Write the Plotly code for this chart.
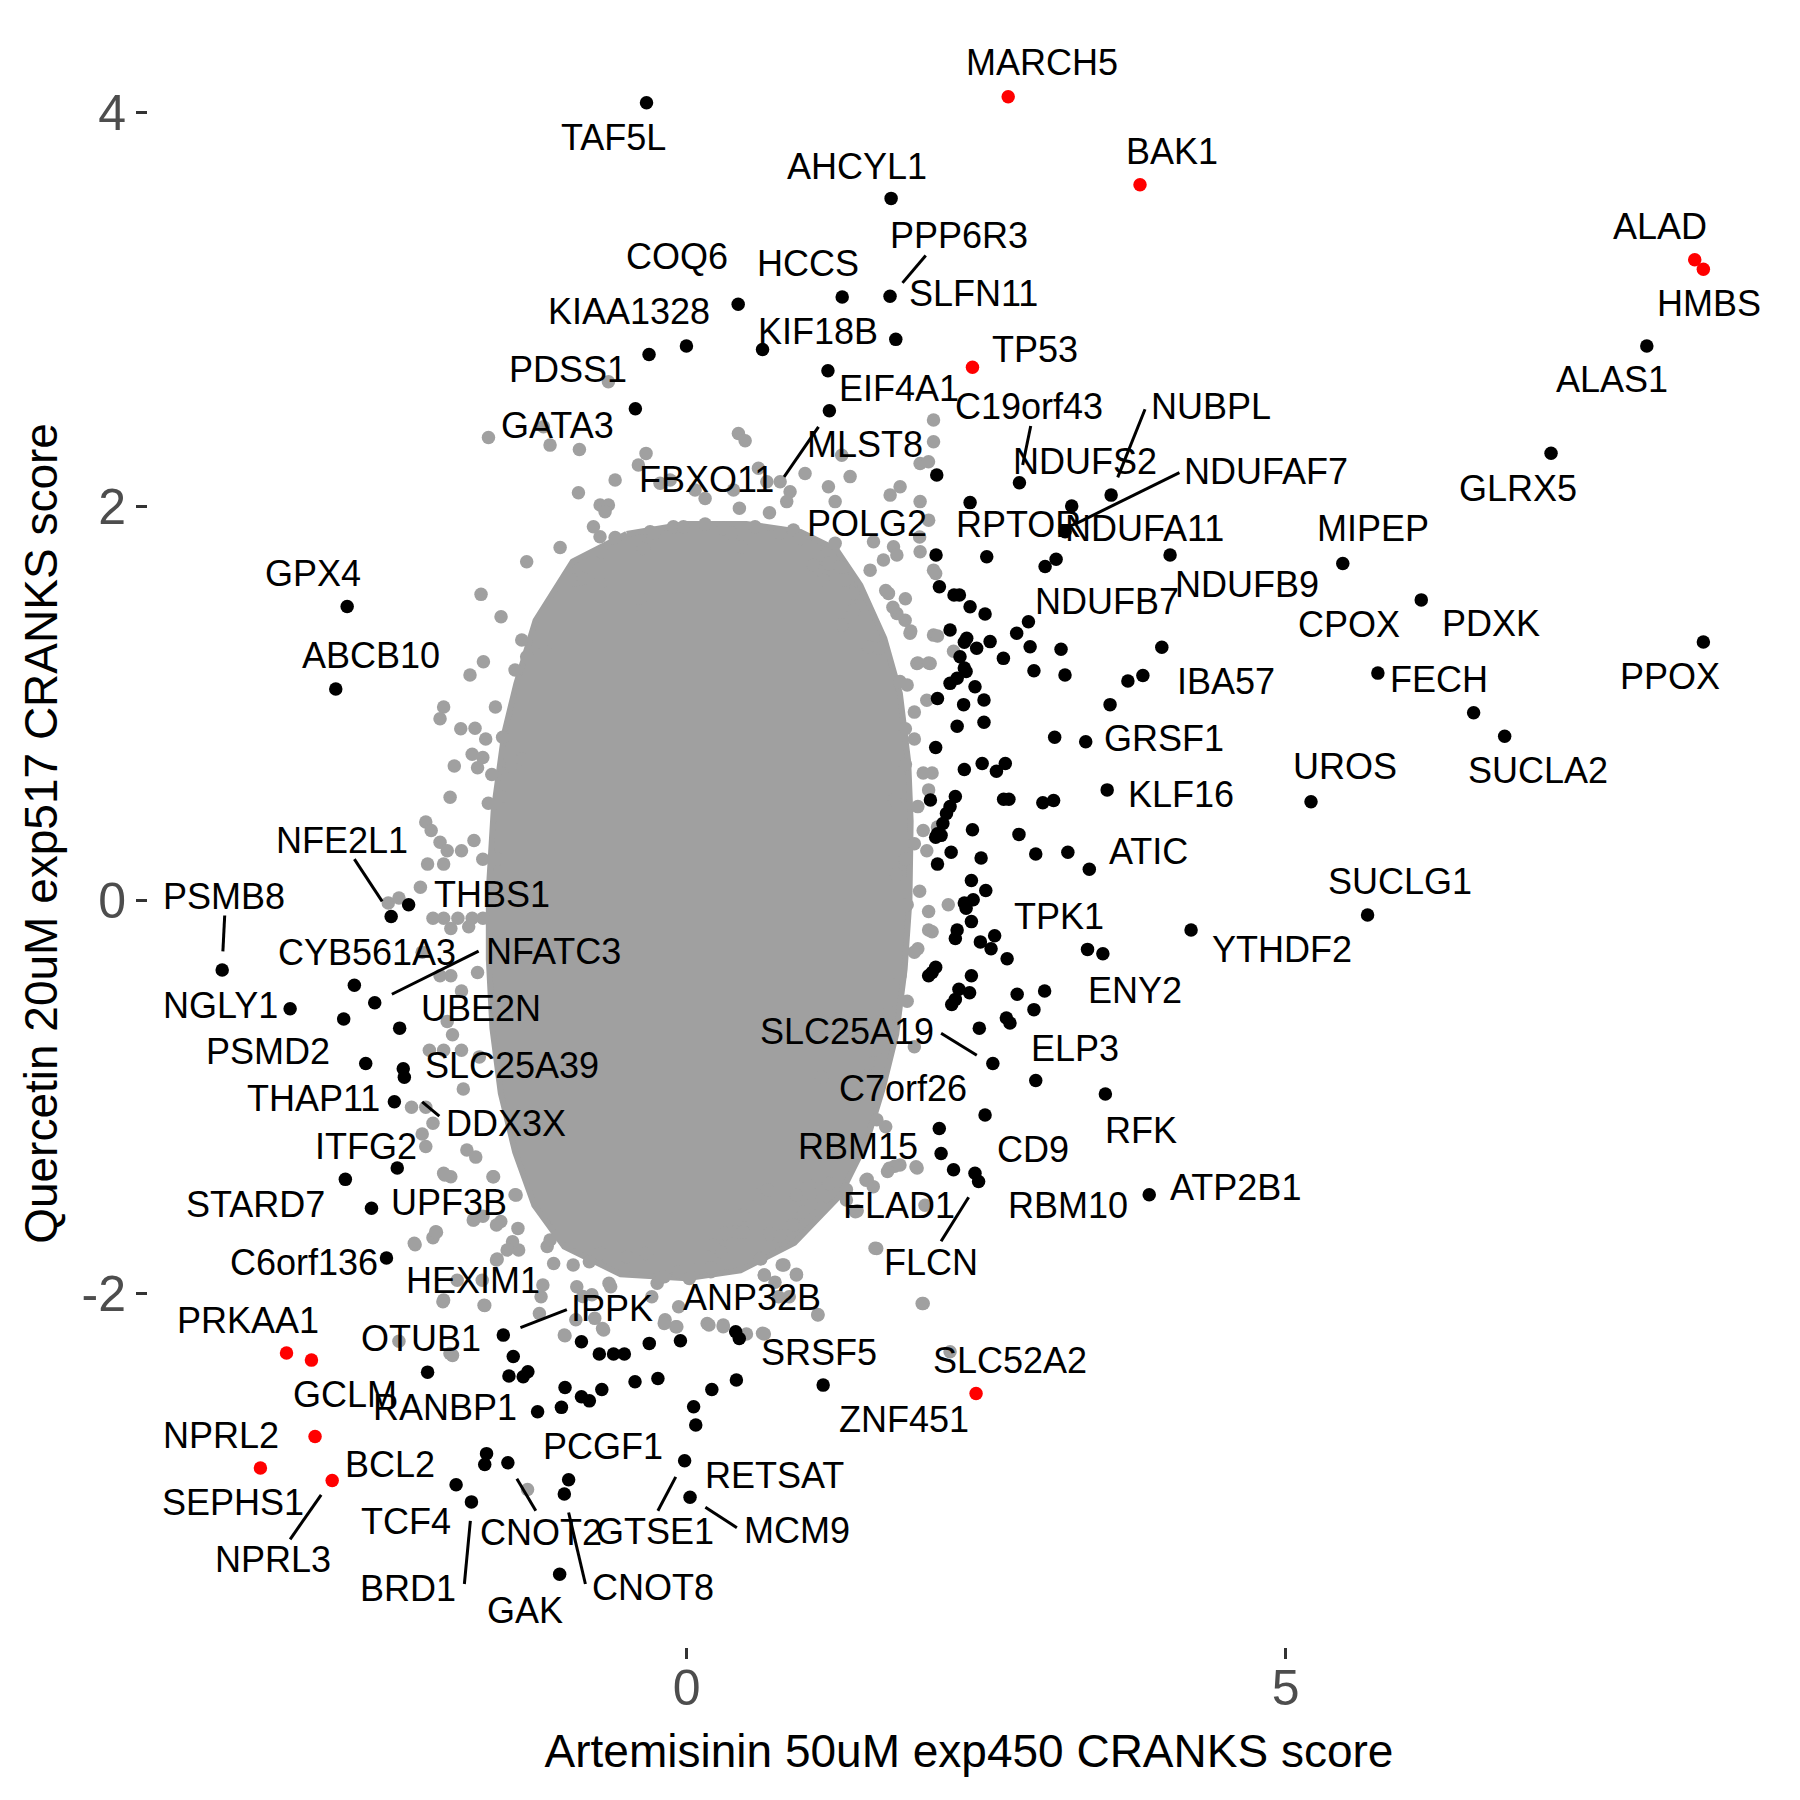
import plotly.graph_objects as go

# ---------------- data: labelled hits ----------------
hit_gene = ["TAF5L", "MARCH5", "AHCYL1", "BAK1", "ALAD", "HMBS", "COQ6", "HCCS", "PPP6R3", "SLFN11",
            "KIAA1328", "KIF18B", "PDSS1", "ALAS1", "TP53", "EIF4A1", "GATA3", "C19orf43", "NUBPL", "MLST8",
            "FBXO11", "NDUFS2", "NDUFAF7", "GLRX5", "RPTOR", "POLG2", "NDUFA11", "MIPEP", "NDUFB9", "CPOX",
            "PDXK", "NDUFB7", "GPX4", "PPOX", "IBA57", "FECH", "ABCB10", "SUCLA2", "GRSF1", "UROS",
            "KLF16", "ATIC", "NFE2L1", "THBS1", "PSMB8", "SUCLG1", "TPK1", "YTHDF2", "ENY2", "CYB561A3",
            "NFATC3", "NGLY1", "UBE2N", "PSMD2", "SLC25A39", "SLC25A19", "ELP3", "DDX3X", "THAP11", "C7orf26",
            "RFK", "CD9", "RBM15", "ITFG2", "FLAD1", "RBM10", "FLCN", "STARD7", "ATP2B1", "UPF3B",
            "C6orf136", "HEXIM1", "ANP32B", "IPPK", "PRKAA1", "OTUB1", "GCLM", "SRSF5", "ZNF451", "SLC52A2",
            "RANBP1", "RETSAT", "NPRL2", "PCGF1", "BCL2", "SEPHS1", "NPRL3", "TCF4", "CNOT2", "GTSE1",
            "BRD1", "CNOT8", "MCM9", "GAK"]
hit_x = [-0.334, 2.684, 1.707, 3.784, 8.413, 8.485, 0.431, 1.299, 1.698, 1.746,
         -0.001, 0.634, -0.313, 8.013, 2.386, 1.180, -0.427, 2.778, 3.543, 2.088,
         1.192, 3.214, 3.159, 7.214, 2.366, 2.082, 3.084, 5.476, 4.035, 6.131,
         6.568, 2.853, -2.832, 8.485, 3.966, 5.769, -2.927, 6.827, 3.331, 5.211,
         3.510, 3.361, -2.465, -2.319, -3.875, 5.683, 3.346, 4.210, 3.474, -2.772,
         -2.602, -3.308, -2.394, -2.677, -2.364, 2.556, 2.914, -2.355, -2.438, 2.109,
         3.495, 2.491, 2.124, -2.414, 2.228, 2.407, 2.437, -2.847, 3.861, -2.629,
         -2.504, -1.446, 0.440, -1.529, -3.338, -2.161, -3.130, 0.416, 1.140, 2.416,
         -1.243, 0.077, -3.100, -0.984, -1.684, -3.556, -2.957, -1.923, -1.491, -0.016,
         -1.795, -1.020, 0.029, -1.059]
hit_y = [4.050, 4.080, 3.564, 3.633, 3.252, 3.204, 3.026, 3.063, 3.067, 2.848,
         2.814, 2.797, 2.771, 2.814, 2.706, 2.689, 2.496, 2.120, 2.057, 2.159,
         2.486, 2.002, 1.871, 2.270, 2.019, 1.753, 1.731, 1.710, 1.753, 1.525,
         0.952, 1.414, 1.491, 1.311, 1.284, 1.153, 1.072, 0.832, 0.804, 0.500,
         0.560, 0.157, -0.083, -0.023, -0.355, -0.075, -0.250, -0.152, -0.272, -0.432,
         -0.521, -0.552, -0.650, -0.830, -0.856, -0.830, -0.916, -0.899, -1.024, -1.160,
         -0.985, -1.091, -1.287, -1.360, -1.369, -1.387, -1.429, -1.418, -1.496, -1.565,
         -1.817, -2.318, -2.226, -2.209, -2.300, -2.397, -2.336, -2.437, -2.463, -2.506,
         -2.598, -2.666, -2.724, -2.944, -2.866, -2.884, -2.947, -2.969, -2.857, -2.847,
         -3.056, -3.016, -3.032, -3.424]
red_genes = ["MARCH5", "BAK1", "ALAD", "HMBS", "TP53", "PRKAA1", "GCLM", "SLC52A2",
             "NPRL2", "SEPHS1", "NPRL3"]

# ---------------- data: unlabelled hits (black) ----------------
other_x = [2.505, 2.992, 2.110, 2.232, 2.277, 2.366, 2.491, 2.199, 2.755, 2.338, 2.318, 2.421, 2.533,
           2.867, 3.125, 2.644, 2.282, 2.318, 2.333, 2.899, 3.158, 3.683, 3.808, 2.258, 2.199, 2.407,
           2.094, 2.482, 2.312, 3.534, 2.258, 2.482, 3.072, 2.079, 2.318, 2.467, 2.586, 2.660, 2.035,
           2.243, 2.199, 2.169, 2.646, 2.690, 2.973, 3.063, 2.139, 2.094, 2.079, 2.124, 2.386, 2.774,
           2.914, 3.182, 2.208, 2.458, 2.094, 2.377, 2.497, 2.318, 2.392, 2.333, 2.377, 2.258, 2.243,
           2.452, 2.571, 2.541, 2.675, 2.079, 2.020, 2.049, 2.377, 2.273, 2.362, 2.243, 2.213, 2.759,
           2.988, 2.899, 2.669, 2.699, 2.443, -2.861, -1.482, -1.363, -1.324, -0.877, -0.728, -0.609,
           -0.519, -0.311, -0.051, -1.014, -0.877, -0.811, -0.707, -0.430, -0.239, 0.410, 0.211, -1.044,
           0.059, -1.669]
other_y = [1.744, 1.694, 1.592, 1.550, 1.550, 1.490, 1.453, 1.372, 1.355, 1.330, 1.310, 1.279, 1.313,
           1.287, 1.274, 1.228, 1.236, 1.179, 1.161, 1.165, 1.144, 1.113, 1.141, 1.127, 1.101, 1.084,
           1.024, 1.016, 0.993, 0.993, 0.883, 0.904, 0.827, 0.775, 0.664, 0.694, 0.655, 0.694, 0.509,
           0.526, 0.475, 0.440, 0.512, 0.512, 0.495, 0.506, 0.389, 0.337, 0.320, 0.329, 0.358, 0.334,
           0.234, 0.243, 0.243, 0.214, 0.183, 0.100, 0.049, -0.015, 0.002, -0.041, -0.109, -0.152, -0.195,
           -0.212, -0.181, -0.247, -0.298, -0.341, -0.384, -0.367, -0.384, -0.453, -0.470, -0.504, -0.530, -0.478,
           -0.461, -0.556, -0.599, -0.624, -0.650, -0.604, -2.417, -2.420, -2.395, -2.243, -2.305, -2.305,
           -2.305, -2.251, -2.238, -2.475, -2.522, -2.543, -2.485, -2.446, -2.429, -2.192, -2.485, -2.576,
           -2.573, -2.811]

# ---------------- data: background genes (grey) ----------------
# outline of the saturated centre of the grey cloud
core_x = [-0.50, 0.00, 0.50, 0.95, 1.25, 1.45, 1.65, 1.78, 1.85, 1.87, 1.86, 1.82, 1.75, 1.64, 1.50,
          1.28, 0.90, 0.45, 0.00, -0.55, -1.02, -1.27, -1.43, -1.55, -1.62, -1.65, -1.65, -1.61, -1.52,
          -1.42, -1.26, -0.95]
core_y = [1.86, 1.91, 1.91, 1.87, 1.78, 1.60, 1.33, 1.05, 0.70, 0.40, 0.00, -0.35, -0.68, -0.95, -1.23,
          -1.50, -1.74, -1.88, -1.92, -1.90, -1.76, -1.55, -1.28, -0.98, -0.65, -0.30, 0.05, 0.45, 0.85,
          1.10, 1.42, 1.72]
# scattered grey genes around the centre
bg_x = [-1.653, -1.194, -1.139, -0.894, -0.652, 0.433, 0.489, -0.338, -0.402, -0.596, -0.902, -0.721,
        -0.652, -0.680, -0.777, -0.722, -0.596, -1.055, -0.707, -1.334, -0.221, -0.137, 0.071, 0.155,
        0.392, 0.600, 0.670, 0.781, 0.989, 0.864, 0.836, 0.441, 0.692, 0.572, 0.155, -0.110, -0.026,
        -0.304, 0.308, 0.377, 0.781, 0.892, 0.947, 1.184, 1.365, 1.295, 1.240, 1.170, 1.240, 1.560,
        1.699, 1.782, 1.949, 2.061, 2.061, 1.949, 2.019, 1.727, 1.755, 1.643, 1.949, 1.059, 1.184,
        1.281, 1.532, 1.142, 1.323, 1.393, 1.685, 2.061, 1.824, 1.865, 2.061, 1.518, 1.615, 1.922,
        2.033, 1.755, 1.393, 1.295, -1.715, -1.548, -1.375, -1.695, -1.807, -1.431, -1.334, -1.181,
        -0.930, -0.861, -0.722, -0.388, -0.360, -0.276, 0.461, 2.020, 1.945,
        -1.595, -2.027, -2.057, -1.884, -1.765, -1.676, -1.535, -1.789, -1.700, -1.938, -1.744, -1.625,
        -1.461, -1.371, -1.973, -1.654, -1.550, -2.176, -2.131, -2.057, -1.997, -1.878, -1.774, -1.700,
        -1.580, -2.161, -2.027, -2.221, -2.489, -2.400, -2.116, -2.027, -1.908, -1.789, -1.699, -1.967,
        -1.818, -2.206, -2.057, -1.967, -1.878, -1.744, -1.997, -1.953, -2.146, -2.027, -1.878, -1.729,
        -1.863,
        2.079, 1.826, 1.662, 1.722, 1.871, 2.094, 1.930, 2.020, 2.228, 1.781, 1.841, 2.005, 1.901,
        1.826, 1.901, 1.975, 2.049, 2.020, 1.826, 1.930, 1.737, 1.975, 2.094, 1.901, 2.005, 1.826,
        1.752, 1.945, 2.184, 2.020, 1.841, 2.020, 2.049, 1.930, 1.901, 1.781, 1.841, 1.692, 1.901,
        1.573, 1.513, 1.126,
        -2.295, -2.176, -2.206, -2.116, -2.176, -1.833, -2.027, -1.967, -1.610, -1.759, -1.431, -1.774,
        -1.699, -1.550, -2.087, -2.116, -2.265, -1.580, -1.401, -1.163, -2.027, -1.684, -2.400, -1.953,
        -1.327, -1.014, -0.701, -0.865, -0.790, -0.179, -0.090, -0.924,
        -2.018, -2.272, -2.093, -1.616, -1.422, -1.780, -1.586, -1.407, -1.452, -1.497, -1.139, -1.586,
        -1.914, -1.705, -2.033, -1.690, -1.974, -1.214, -1.199, -1.109, -0.946, -1.228, -1.020, -0.916,
        -0.766, -0.692, -0.647, -0.633, -0.722, -0.811, -0.498, -0.335, -0.245, -0.186, -0.290, -0.186,
        -0.081, -0.066, -0.066, 0.112, 0.202, 0.023, 0.172, 0.306, 0.470, 0.619, 0.798, 0.649, 0.917,
        0.768, 0.857, 0.634, 1.096, 1.587, 1.975, 0.589, 0.679, 0.902, 0.977, 1.185, 1.126, 1.498,
        1.558, 1.692, 1.781, 1.915, 1.334, 1.409, 1.036, 0.217, 0.291, 0.470, 0.321, 0.411,
        1.662, 1.588, 1.924, 1.737, 1.677, 1.507, 1.334, 1.424, 1.573, 1.990, 1.022, 0.917, 0.470,
        0.694, 0.783, 0.887, 0.619, 0.813, 0.917, 0.649, 0.738, 1.096, 0.187, 0.306, 0.500, 0.649,
        1.966, 2.199, 0.202]
bg_y = [2.350, 2.404, 2.311, 2.289, 2.633, 2.370, 2.333, 2.269, 2.210, 2.134, 2.069, 2.007,
        2.007, 1.973, 1.896, 1.846, 1.842, 1.791, 1.769, 1.719, 2.117, 2.134, 2.083, 2.040,
        2.083, 2.193, 2.125, 2.125, 2.167, 2.074, 2.024, 1.990, 1.968, 1.896, 1.910, 1.896, 1.896,
        1.871, 1.888, 1.863, 1.863, 1.880, 1.837, 2.100, 2.151, 2.260, 2.024, 1.761, 1.812, 1.820,
        2.057, 2.100, 2.024, 2.438, 2.328, 2.218, 2.227, 1.795, 1.753, 1.727, 1.769, 1.702, 1.710,
        1.693, 1.676, 1.626, 1.626, 1.558, 1.558, 1.676, 1.422, 1.355, 1.346, 1.287, 1.279, 1.202,
        1.202, 1.456, 1.473, 1.397, 1.553, 1.439, 1.321, 1.211, 1.143, 1.169, 1.236, 1.262,
        1.626, 1.634, 1.609, 1.533, 1.786, 1.863, 1.795, 1.930, 1.844,
        0.981, 0.981, 0.921, 0.870, 0.873, 0.818, 0.827, 0.741, 0.724, 0.681, 0.672, 0.638,
        0.681, 0.715, 0.523, 0.492, 0.526, 0.397, 0.354, 0.294, 0.251, 0.251, 0.303, 0.208,
        0.208, 0.183, 0.183, 0.066, -0.015, 0.011, -0.092, -0.092, -0.092, -0.092, -0.092, -0.144,
        -0.135, -0.264, -0.384, -0.384, -0.461, -0.367, -0.616, -0.684, -0.762, -0.762, -0.762, -0.796,
        -0.959,
        1.659, 1.531, 1.573, 1.488, 1.367, 1.342, 1.204, 1.204, 1.264, 1.110, 1.093, 1.015, 0.955,
        0.870, 0.818, 0.646, 0.646, 0.560, 0.689, 0.475, 0.509, 0.354, 0.372, 0.286, 0.251, 0.208,
        0.131, 0.045, -0.023, -0.058, -0.023, -0.152, -0.161, -0.247, -0.264, -0.384, -0.513, -0.573, -0.745,
        -0.762, -0.830, -0.899,
        -1.052, -1.052, -1.188, -1.133, -1.251, -1.269, -1.387, -1.405, -1.405, -1.305, -1.496, -1.623,
        -1.605, -1.632, -1.686, -1.714, -1.750, -1.822, -1.777, -1.759, -2.031, -2.058, -2.240, -2.312,
        -2.993, -2.212, -2.176, -2.013, -2.004, -2.131, -2.167, -2.131,
        -1.396, -1.743, -1.684, -1.405, -1.498, -1.625, -1.650, -1.667, -1.735, -1.777, -1.726, -1.828,
        -1.930, -1.930, -2.040, -2.057, -2.302, -2.014, -1.955, -1.845, -1.853, -2.099, -2.209, -1.963,
        -2.124, -2.183, -1.946, -1.963, -1.794, -1.836, -1.811, -1.794, -1.946, -1.913, -2.014, -2.150,
        -2.167, -2.065, -1.887, -1.870, -1.887, -1.921, -2.150, -2.158, -1.684, -1.820, -1.853, -1.904, -1.904,
        -2.014, -2.014, -2.200, -2.107, -1.769, -2.048, -1.498, -1.472, -1.650, -1.582, -1.439, -1.565, -1.422,
        -1.455, -1.362, -1.345, -1.354, -1.523, -1.582, -1.489, -1.752, -1.786, -1.600, -1.693, -1.684,
        -1.151, -1.115, -1.360, -1.351, -1.378, -1.418, -1.469, -1.578, -1.768, -1.550, -1.451, -1.496, -1.686,
        -1.695, -1.705, -1.650, -1.822, -1.853, -1.900, -1.904, -1.940, -2.104, -2.158, -2.167, -2.203, -2.203,
        -2.049, -2.294, -1.868]

# ---------------- text layout (repelled label positions) ----------------
label_pos_x = [-0.613, 2.968, 1.426, 4.052, 8.124, 8.535, -0.077, 1.011, 2.271, 2.398,
               -0.479, 1.099, -0.993, 7.721, 2.910, 1.770, -1.080, 2.860, 4.380, 1.492,
               0.170, 3.325, 4.837, 6.938, 2.770, 1.504, 3.820, 5.731, 4.674, 5.527,
               6.711, 3.506, -3.120, 8.205, 4.502, 6.282, -2.636, 7.108, 3.986, 5.494,
               4.125, 3.857, -2.875, -1.622, -3.860, 5.954, 3.105, 4.971, 3.739, -2.665,
               -1.111, -3.888, -1.719, -3.491, -1.458, 1.338, 3.245, -1.505, -3.113, 1.806,
               3.793, 2.892, 1.431, -2.675, 1.770, 3.181, 2.042, -3.596, 4.579, -1.983,
               -3.190, -1.778, 0.546, -0.618, -3.663, -2.217, -2.846, 1.107, 1.816, 2.696,
               -2.012, 0.738, -3.885, -0.696, -2.473, -3.785, -3.453, -2.342, -1.215, -0.260,
               -2.322, -0.278, 0.919, -1.345]
label_pos_y = [3.875, 4.254, 3.727, 3.804, 3.423, 3.029, 3.271, 3.232, 3.374, 3.080,
               2.991, 2.890, 2.697, 2.646, 2.795, 2.597, 2.412, 2.506, 2.507, 2.316,
               2.137, 2.227, 2.175, 2.093, 1.906, 1.915, 1.888, 1.890, 1.603, 1.402,
               1.405, 1.519, 1.660, 1.137, 1.108, 1.122, 1.240, 0.660, 0.820, 0.677,
               0.536, 0.248, 0.303, 0.028, 0.018, 0.095, -0.083, -0.251, -0.458, -0.267,
               -0.263, -0.537, -0.549, -0.767, -0.840, -0.669, -0.752, -1.132, -1.009, -0.954,
               -1.171, -1.264, -1.250, -1.250, -1.551, -1.550, -1.842, -1.548, -1.459, -1.538,
               -1.842, -1.931, -2.019, -2.076, -2.133, -2.225, -2.510, -2.299, -2.640, -2.340,
               -2.578, -2.921, -2.717, -2.774, -2.865, -3.058, -3.347, -3.154, -3.209, -3.208,
               -3.495, -3.490, -3.201, -3.607]
# leader segments: gene -> (label end x, label end y, point end x, point end y)
leader_segments = {
    "PPP6R3": (1.996, 3.274, 1.802, 3.135),
    "C19orf43": (2.872, 2.408, 2.805, 2.210),
    "NUBPL": (3.826, 2.493, 3.598, 2.147),
    "FBXO11": (0.814, 2.150, 1.101, 2.404),
    "NDUFAF7": (4.113, 2.171, 3.242, 1.910),
    "NFE2L1": (-2.772, 0.208, -2.540, -0.006),
    "PSMB8": (-3.854, -0.078, -3.869, -0.260),
    "NFATC3": (-1.735, -0.259, -2.459, -0.478),
    "SLC25A19": (2.124, -0.676, 2.422, -0.788),
    "DDX3X": (-2.063, -1.097, -2.206, -1.024),
    "FLCN": (2.124, -1.732, 2.354, -1.509),
    "IPPK": (-0.999, -2.080, -1.386, -2.171),
    "NPRL3": (-3.049, -3.020, -3.308, -3.246),
    "CNOT2": (-1.416, -2.938, -1.258, -3.101),
    "GTSE1": (-0.239, -3.101, -0.090, -2.929),
    "BRD1": (-1.854, -3.473, -1.804, -3.152),
    "CNOT8": (-0.984, -3.110, -0.844, -3.473),
    "MCM9": (0.157, -3.083, 0.420, -3.187),
}

x_ticks = [0, 5]
y_ticks = [-2, 0, 2, 4]

# ---------------- styles ----------------
GREY = "#A0A0A0"
FONT = "Liberation Sans, Arial, sans-serif"
PT = 13.5

fig = go.Figure()

# saturated grey centre
fig.add_trace(go.Scatter(x=core_x + [core_x[0]], y=core_y + [core_y[0]], mode="lines",
                         fill="toself", fillcolor=GREY, line=dict(color=GREY, width=6),
                         hoverinfo="skip", showlegend=False))
# scattered grey genes
fig.add_trace(go.Scatter(x=bg_x, y=bg_y, mode="markers",
                         marker=dict(color=GREY, size=PT, line=dict(width=0)),
                         hoverinfo="skip", showlegend=False))
# unlabelled hits
fig.add_trace(go.Scatter(x=other_x, y=other_y, mode="markers",
                         marker=dict(color="black", size=PT, line=dict(width=0)),
                         showlegend=False))
# labelled hits
blk = [i for i, g in enumerate(hit_gene) if g not in red_genes]
red = [i for i, g in enumerate(hit_gene) if g in red_genes]
fig.add_trace(go.Scatter(x=[hit_x[i] for i in blk], y=[hit_y[i] for i in blk], mode="markers",
                         text=[hit_gene[i] for i in blk],
                         marker=dict(color="black", size=PT, line=dict(width=0)), showlegend=False))
fig.add_trace(go.Scatter(x=[hit_x[i] for i in red], y=[hit_y[i] for i in red], mode="markers",
                         text=[hit_gene[i] for i in red],
                         marker=dict(color="#FF0000", size=PT, line=dict(width=0)), showlegend=False))

# leader segments
sx, sy = [], []
for g, (x0, y0, x1, y1) in leader_segments.items():
    sx += [x0, x1, None]
    sy += [y0, y1, None]
fig.add_trace(go.Scatter(x=sx, y=sy, mode="lines", line=dict(color="black", width=3),
                         hoverinfo="skip", showlegend=False))

# gene labels
for g, lx, ly in zip(hit_gene, label_pos_x, label_pos_y):
    fig.add_annotation(x=lx, y=ly, text=g, showarrow=False, xanchor="center", yanchor="middle",
                       font=dict(family=FONT, size=36, color="black"))

fig.update_layout(
    width=1800, height=1800,
    margin=dict(l=140, r=18, t=12, b=161),
    paper_bgcolor="white", plot_bgcolor="white",
    font=dict(family=FONT),
    showlegend=False,
)
fig.update_xaxes(range=[-4.494, 9.208], tickvals=x_ticks, ticktext=[str(v) for v in x_ticks],
                 ticks="outside", ticklen=11, tickwidth=2.5, tickcolor="#333333",
                 showgrid=False, zeroline=False, showline=False, ticklabelstandoff=-14,
                 tickfont=dict(family=FONT, size=50, color="#4D4D4D"),
                 title=dict(text="Artemisinin 50uM exp450 CRANKS score",
                            font=dict(family=FONT, size=46, color="black"), standoff=19),
                 automargin=False)
fig.update_yaxes(range=[-3.793, 4.470], tickvals=y_ticks, ticktext=[str(v) for v in y_ticks],
                 ticks="outside", ticklen=11, tickwidth=2.5, tickcolor="#333333",
                 showgrid=False, zeroline=False, showline=False,
                 tickfont=dict(family=FONT, size=50, color="#4D4D4D"),
                 title=dict(text="Quercetin 20uM exp517 CRANKS score",
                            font=dict(family=FONT, size=46, color="black"), standoff=9),
                 automargin=False)

fig.write_html("out.html")
